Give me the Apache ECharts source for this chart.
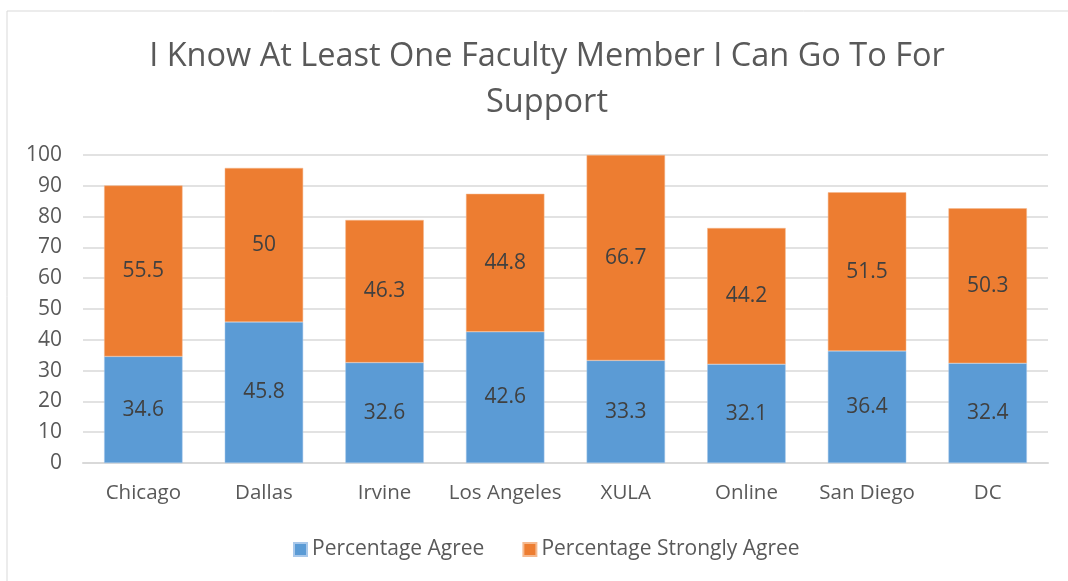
<!DOCTYPE html>
<html>
<head>
<meta charset="utf-8">
<script src="https://cdn.jsdelivr.net/npm/echarts@6/dist/echarts.min.js"></script>
<style>
  html, body { margin: 0; padding: 0; background: #fff; }
  #chart { width: 1068px; height: 581px; }
</style>
</head>
<body>
<div id="chart"></div>
<script>
const campuses = ['Chicago', 'Dallas', 'Irvine', 'Los Angeles', 'XULA', 'Online', 'San Diego', 'DC']
const agree = [34.6, 45.8, 32.6, 42.6, 33.3, 32.1, 36.4, 32.4]
const stronglyAgree = [55.5, 50, 46.3, 44.8, 66.7, 44.2, 51.5, 50.3]

const font = 'Open Sans'
const textColor = '#595959'

const chart = echarts.init(document.getElementById('chart'))

const option = {
  animation: false,
  textStyle: { fontFamily: font },
  title: {
    text: 'I Know At Least One Faculty Member I Can Go To For\nSupport',
    left: 542,
    textAlign: 'center',
    top: 29,
    textStyle: { fontSize: 32.5, fontWeight: 'normal', color: textColor, lineHeight: 46, fontFamily: font }
  },
  graphic: [{
    type: 'rect',
    shape: { x: 7, y: 11, width: 1100, height: 600 },
    style: { fill: 'none', stroke: '#d9d9d9', lineWidth: 1 },
    silent: true
  }],
  legend: {
    bottom: 16,
    left: 288,
    itemWidth: 13,
    itemHeight: 13,
    itemGap: 38,
    icon: 'rect',
    textStyle: { fontSize: 21, color: textColor, fontFamily: font },
    data: ['Percentage Agree', 'Percentage Strongly Agree']
  },
  grid: { left: 83, right: 20, top: 155, bottom: 118 },
  xAxis: {
    type: 'category',
    data: campuses,
    axisLine: { lineStyle: { color: '#d9d9d9', width: 2 } },
    axisTick: { show: false },
    axisLabel: { interval: 0, fontSize: 20.5, color: textColor, margin: 20, fontFamily: font }
  },
  yAxis: {
    type: 'value',
    min: 0,
    max: 100,
    interval: 10,
    axisLine: { show: false },
    axisTick: { show: false },
    splitLine: { lineStyle: { color: '#d9d9d9', width: 1.5 } },
    axisLabel: { fontSize: 21, color: textColor, margin: 21, fontFamily: font }
  },
  series: [
    {
      name: 'Percentage Agree',
      type: 'bar',
      stack: 'total',
      barWidth: '65%',
      itemStyle: { color: '#5b9bd5', borderColor: '#a9c8ea', borderWidth: 0.5 },
      label: { show: true, position: 'inside', fontSize: 21, color: '#404040', fontFamily: font },
      data: agree
    },
    {
      name: 'Percentage Strongly Agree',
      type: 'bar',
      stack: 'total',
      barWidth: '65%',
      itemStyle: { color: '#ed7d31', borderColor: '#f5b98f', borderWidth: 0.5 },
      label: { show: true, position: 'inside', fontSize: 21, color: '#404040', fontFamily: font },
      data: stronglyAgree
    }
  ]
}

chart.setOption(option)
</script>
</body>
</html>
